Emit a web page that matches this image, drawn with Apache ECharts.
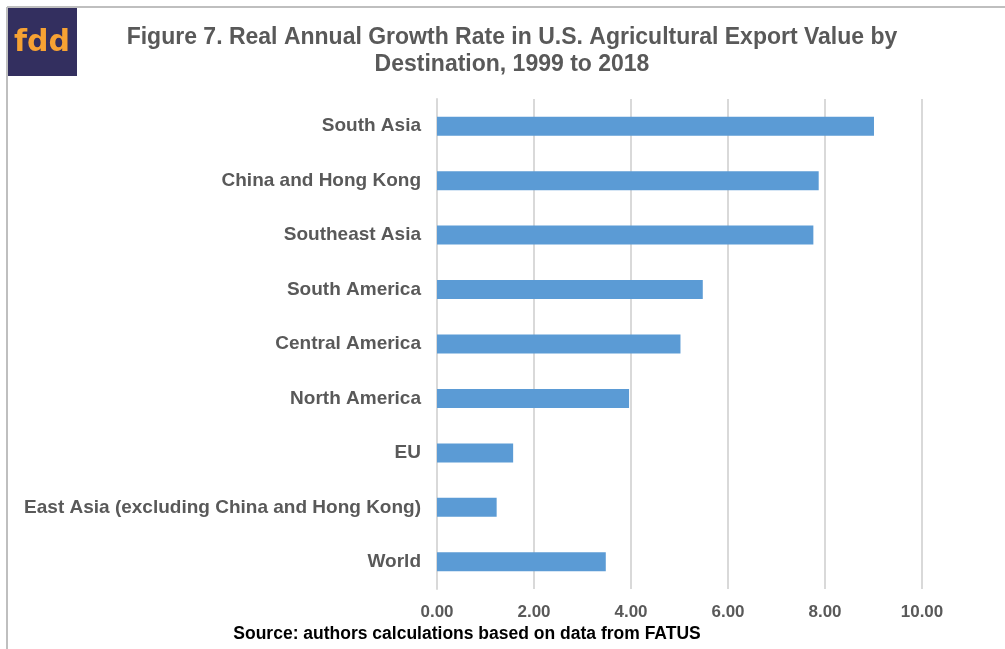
<!DOCTYPE html>
<html><head><meta charset="utf-8">
<script src="https://cdn.jsdelivr.net/npm/echarts@6/dist/echarts.min.js"></script>
<style>html,body{margin:0;padding:0;background:#fff}#c{width:1005px;height:649px}</style>
</head><body><div id="c"></div>
<script>
const categories = ["World","East Asia (excluding China and Hong Kong)","EU","North America","Central America","South America","Southeast Asia","China and Hong Kong","South Asia"];
const values = [3.48,1.23,1.57,3.96,5.02,5.48,7.76,7.87,9.01];
const xTicks = {min:0,max:10,interval:2};
const titleLines = "Figure 7. Real Annual Growth Rate in U.S. Agricultural Export Value by\nDestination, 1999 to 2018";
const sourceText = "Source: authors calculations based on data from FATUS";
const logoText = "fdd";

const chart = echarts.init(document.getElementById('c'), null, {renderer:'canvas'});
const F = '"Liberation Sans", Arial, sans-serif';
chart.setOption({
  animation:false,
  backgroundColor:'#fff',
  title:{
    text:titleLines, left:507, top:19, textAlign:'center',
    textStyle:{fontFamily:F,fontSize:23,fontWeight:'bold',color:'#595959',lineHeight:27}
  },
  grid:{left:437,right:83,top:99,bottom:60,containLabel:false},
  xAxis:{
    type:'value',min:xTicks.min,max:xTicks.max,interval:xTicks.interval,
    axisLine:{show:false},axisTick:{show:false},
    splitLine:{lineStyle:{color:'#d9d9d9',width:2}},
    axisLabel:{formatter:v=>v.toFixed(2),fontFamily:F,fontSize:17,fontWeight:'bold',color:'#595959',margin:15}
  },
  yAxis:{
    type:'category',data:categories,
    axisLine:{lineStyle:{color:'#d9d9d9',width:2}},axisTick:{show:false},
    axisLabel:{fontFamily:F,fontSize:19,fontWeight:'bold',color:'#595959',margin:16}
  },
  series:[{type:'bar',data:values,barWidth:19,itemStyle:{color:'#5b9bd5'}}],
  graphic:[
    {type:'line',shape:{x1:7,y1:7,x2:1005,y2:7},style:{stroke:'#bfbfbf',lineWidth:2}},
    {type:'line',shape:{x1:7,y1:7,x2:7,y2:649},style:{stroke:'#bfbfbf',lineWidth:2}},
    {type:'rect',shape:{x:8,y:8,width:69,height:68},style:{fill:'#332f5f'}},
    {type:'text',x:42,y:43,style:{text:logoText,fill:'#f7a233',font:'bold 30px "DejaVu Sans", sans-serif',textAlign:'center',textVerticalAlign:'middle'}},
    {type:'text',x:467,y:634,style:{text:sourceText,fill:'#000',font:'bold 17.5px "Liberation Sans", Arial, sans-serif',textAlign:'center',textVerticalAlign:'middle'}}
  ]
});
</script></body></html>
